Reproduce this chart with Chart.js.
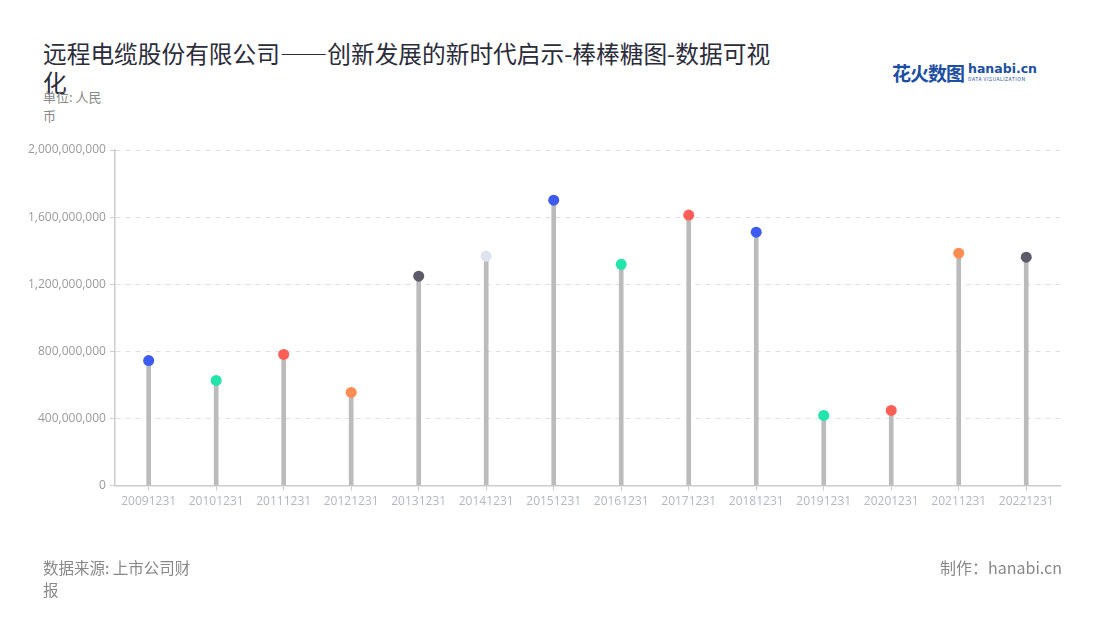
<!DOCTYPE html>
<html lang="zh">
<head>
    <meta charset="UTF-8">
    <title>远程电缆股份有限公司——创新发展的新时代启示-棒棒糖图</title>
    <script src="https://cdn.jsdelivr.net/npm/chart.js"></script>
    <style>
        body {
            margin: 0;
            width: 1100px;
            height: 620px;
            background: #fff;
            font-family: 'Noto Sans CJK SC', 'Noto Sans', sans-serif;
            position: relative;
            overflow: hidden;
        }

        .title {
            position: absolute;
            left: 43px;
            top: 39px;
            width: 745px;
            font-size: 23.7px;
            line-height: 29px;
            color: #2b2b3a;
        }

        .unit {
            position: absolute;
            left: 43px;
            top: 87px;
            width: 66px;
            font-size: 13px;
            line-height: 19px;
            color: #888;
        }

        .logo {
            position: absolute;
            left: 892px;
            top: 59px;
            white-space: nowrap;
        }
        .logo .cn {
            font-size: 19px;
            font-weight: bold;
            color: #1c4fa3;
            letter-spacing: -1px;
        }
        .logo .en {
            display: inline-block;
            vertical-align: top;
            margin-left: 4px;
            line-height: 1;
        }
        .logo .en b {
            display: block;
            font-family: 'DejaVu Sans', sans-serif;
            font-size: 12.5px;
            color: #1c4fa3;
            margin-top: 4px;
        }
        .logo .en i {
            display: block;
            font-style: normal;
            font-size: 5px;
            letter-spacing: 0.5px;
            color: #1c4fa3;
        }

        .source {
            position: absolute;
            left: 43px;
            top: 556px;
            width: 160px;
            font-size: 15.5px;
            line-height: 22px;
            color: #888;
        }

        .maker {
            position: absolute;
            right: 38px;
            top: 556px;
            font-size: 16px;
            line-height: 22px;
            color: #888;
        }

        .chart-box {
            position: absolute;
            left: 0;
            top: 0;
            width: 1100px;
            height: 620px;
        }
    </style>
</head>
<body>

    <div class="title">远程电缆股份有限公司——创新发展的新时代启示-棒棒糖图-数据可视化</div>
    <div class="unit">单位: 人民币</div>
    <div class="logo"><span class="cn">花火数图</span><span class="en"><b>hanabi.cn</b><i>DATA VISUALIZATION</i></span></div>

    <div class="chart-box">
        <canvas id="lollipop"></canvas>
    </div>

    <div class="source">数据来源: 上市公司财报</div>
    <div class="maker">制作：hanabi.cn</div>

    <script>
// Data
const dates = ["20091231", "20101231", "20111231", "20121231", "20131231", "20141231", "20151231",
               "20161231", "20171231", "20181231", "20191231", "20201231", "20211231", "20221231"];
const revenue = [745000000, 627000000, 782000000, 555000000, 1248000000, 1367000000, 1701000000,
                 1319000000, 1612000000, 1510000000, 418000000, 448000000, 1385000000, 1361000000];
const dotColors = ["#3d5af1", "#22e4ac", "#ff5e57", "#ff8c50", "#5b5b6b", "#dfe3f0", "#3d5af1",
                   "#22e4ac", "#ff5e57", "#3d5af1", "#22e4ac", "#ff5e57", "#ff8c50", "#5b5b6b"];
const yTicks = [0, 400000000, 800000000, 1200000000, 1600000000, 2000000000];

const ctx = document.getElementById("lollipop").getContext("2d");
new Chart(ctx, {
    data: {
        labels: dates,
        datasets: [
            {
                type: "line",
                data: revenue,
                showLine: false,
                pointRadius: 5.5,
                pointHoverRadius: 5.5,
                pointBorderWidth: 0,
                pointBackgroundColor: dotColors,
                pointBorderColor: dotColors,
                order: 0
            },
            {
                type: "bar",
                data: revenue,
                backgroundColor: "#bbbbbb",
                barThickness: 4,
                order: 1
            }
        ]
    },
    options: {
        responsive: true,
        maintainAspectRatio: false,
        animation: false,
        layout: { padding: { left: 24, top: 150, right: 40, bottom: 107 } },
        plugins: {
            legend: { display: false },
            tooltip: { enabled: false }
        },
        scales: {
            x: {
                offset: true,
                grid: {
                    offset: false,
                    drawOnChartArea: false,
                    color: "#cccccc",
                    tickLength: 5
                },
                border: { color: "#cccccc", width: 1.5 },
                ticks: {
                    color: "#b3b6c4",
                    font: { size: 12, family: "'Open Sans', 'Noto Sans', sans-serif" },
                    maxRotation: 0,
                    autoSkip: false,
                    padding: 4
                }
            },
            y: {
                min: 0,
                max: 2000000000,
                afterBuildTicks: axis => { axis.ticks = yTicks.map(v => ({ value: v })); },
                grid: {
                    color: "#e0e0e0",
                    tickColor: "#cccccc",
                    tickLength: 5,
                    lineWidth: 1
                },
                border: { color: "#cccccc", width: 1.5, dash: [5, 5] },
                ticks: {
                    color: "#9a9a9a",
                    font: { size: 12, family: "'Open Sans', 'Noto Sans', sans-serif" },
                    padding: 4,
                    callback: v => v.toLocaleString("en-US")
                }
            }
        }
    }
});
    </script>

</body>
</html>
